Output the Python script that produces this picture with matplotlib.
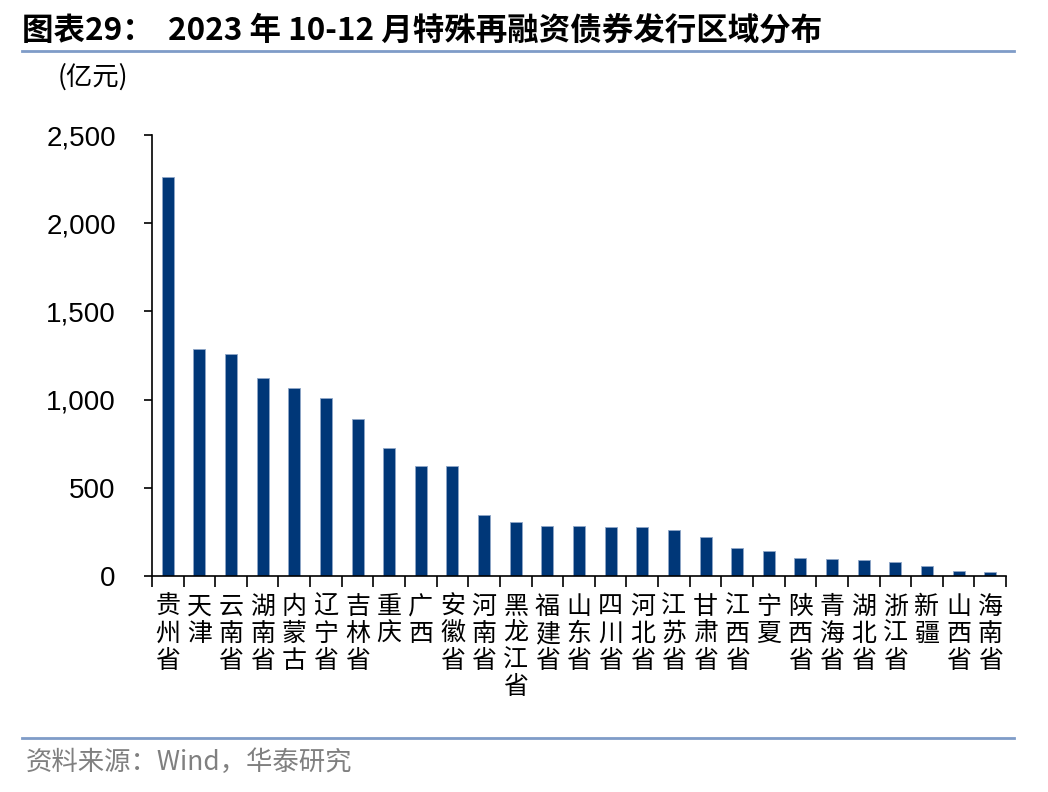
import matplotlib.pyplot as plt
import numpy as np

# 数据 (亿元)
provinces = ['贵州省', '天津', '云南省', '湖南省', '内蒙古', '辽宁省', '吉林省', '重庆', '广西',
             '安徽省', '河南省', '黑龙江省', '福建省', '山东省', '四川省', '河北省', '江苏省',
             '甘肃省', '江西省', '宁夏', '陕西省', '青海省', '湖北省', '浙江省', '新疆', '山西省', '海南省']
amounts = [2262, 1287, 1258, 1122, 1066, 1009, 890, 726, 624,
           622, 346, 306, 283, 283, 278, 278, 261,
           221, 159, 142, 102, 96, 91, 79, 57, 28, 23]

plt.rcParams['font.family'] = ['Liberation Sans', 'Noto Sans CJK SC', 'DejaVu Sans']

fig = plt.figure(figsize=(10.48, 7.92), dpi=100)
ax = fig.add_axes([0.145, 0.2727, 0.815, 0.5568])

x = np.arange(len(provinces))
ax.bar(x, amounts, width=0.38, color='#003778', edgecolor='#8fa6c8', linewidth=0.6)

ax.set_xlim(-0.5, len(provinces) - 0.5)
ax.set_ylim(0, 2500)
ax.set_yticks([0, 500, 1000, 1500, 2000, 2500])
ax.set_yticklabels(['0', '500', '1,000', '1,500', '2,000', '2,500'], fontsize=20)
ax.tick_params(axis='y', direction='out', length=6, width=1.2, pad=20)

# x 轴: 标签竖排, 刻度在类别之间
ax.set_xticks(x)
ax.set_xticklabels(['\n'.join(p) for p in provinces], fontsize=18,
                   family=['Noto Sans CJK SC'], va='top', linespacing=1.04)
ax.tick_params(axis='x', which='major', length=0, pad=13)
ax.set_xticks(np.arange(-0.5, len(provinces), 1.0), minor=True)
ax.tick_params(axis='x', which='minor', direction='out', length=8, width=1.2)

for s in ['top', 'right']:
    ax.spines[s].set_visible(False)
for s in ['left', 'bottom']:
    ax.spines[s].set_linewidth(1.2)

fig.text(0.055, 0.893, '(亿元)', fontsize=19, family=['Noto Sans CJK SC'])

fig.text(0.021, 0.962, '图表29：  2023 年 10-12 月特殊再融资债券发行区域分布', fontsize=22.7,
         fontweight='bold', family=['Noto Sans CJK SC'], va='center')

line1 = plt.Line2D([0.021, 0.968], [0.936, 0.936], transform=fig.transFigure, color='#7f9cc8', linewidth=2)
line2 = plt.Line2D([0.021, 0.968], [0.068, 0.068], transform=fig.transFigure, color='#7f9cc8', linewidth=2)
fig.add_artist(line1)
fig.add_artist(line2)

fig.text(0.025, 0.037, '资料来源：Wind，华泰研究', fontsize=19, color='#808080',
         family=['Noto Sans CJK SC'], va='center', fontweight='light')

fig.savefig('out.png', dpi=100)
